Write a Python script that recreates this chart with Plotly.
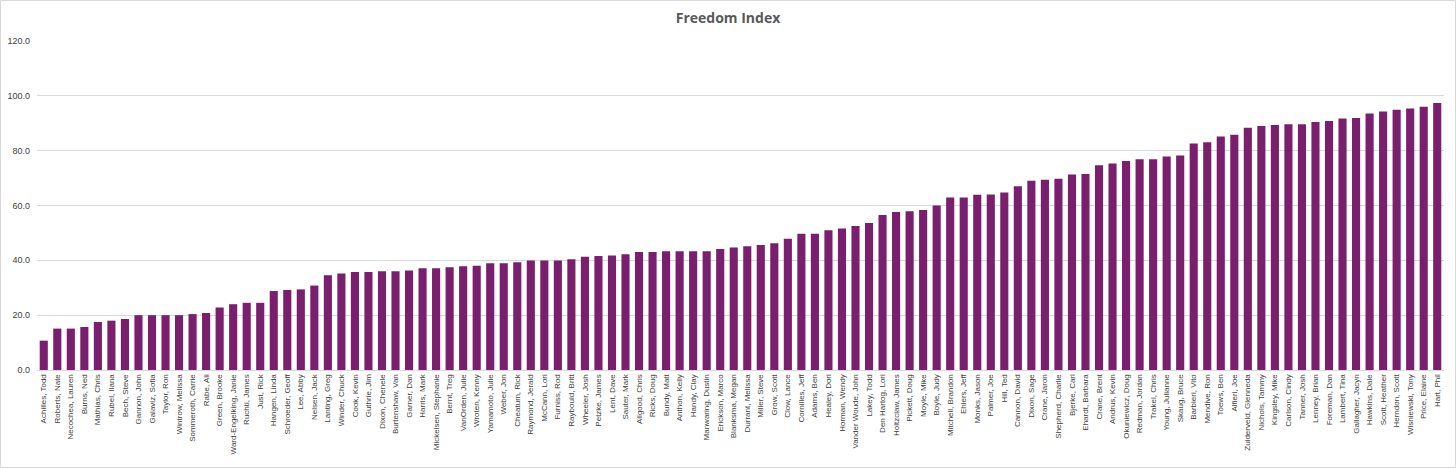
import plotly.graph_objects as go

names = [
    "Achilles, Todd", "Roberts, Nate", "Necochea, Lauren", "Burns, Ned", "Mathias, Chris",
    "Rubel, Ilana", "Bech, Steve", "Gannon, John", "Galaviz, Sofia", "Taylor, Ron",
    "Wintrow, Melissa", "Sommeroth, Carrie", "Rabe, Ali", "Green, Brooke", "Ward-Engelking, Janie",
    "Ruchti, James", "Just, Rick", "Hangen, Linda", "Schroeder, Geoff", "Lee, Abby",
    "Nelsen, Jack", "Lanting, Greg", "Winder, Chuck", "Cook, Kevin", "Guthrie, Jim",
    "Dixon, Chenele", "Burtenshaw, Van", "Garner, Dan", "Harris, Mark", "Mickelsen, Stephanie",
    "Bernt, Treg", "VanOrden, Julie", "Wroten, Kenny", "Yamamoto, Julie", "Weber, Jon",
    "Cheatum, Rick", "Raymond, Jerald", "McCann, Lori", "Furniss, Rod", "Raybould, Britt",
    "Wheeler, Josh", "Petzke, James", "Lent, Dave", "Sauter, Mark", "Allgood, Chris",
    "Ricks, Doug", "Bundy, Matt", "Anthon, Kelly", "Handy, Clay", "Manwaring, Dustin",
    "Erickson, Marco", "Blanksma, Megan", "Durrant, Melissa", "Miller, Steve", "Grow, Scott",
    "Clow, Lance", "Cornilles, Jeff", "Adams, Ben", "Healey, Dori", "Horman, Wendy",
    "Vander Woude, John", "Lakey, Todd", "Den Hartog, Lori", "Holtzclaw, James", "Pickett, Doug",
    "Moyle, Mike", "Boyle, Judy", "Mitchell, Brandon", "Ehlers, Jeff", "Monks, Jason",
    "Palmer, Joe", "Hill, Ted", "Cannon, David", "Dixon, Sage", "Crane, Jaron",
    "Shepherd, Charlie", "Bjerke, Carl", "Ehardt, Barbara", "Crane, Brent", "Andrus, Kevin",
    "Okuniewicz, Doug", "Redman, Jordan", "Trakel, Chris", "Young, Julianne", "Skaug, Bruce",
    "Barbieri, Vito", "Mendive, Ron", "Toews, Ben", "Alfieri, Joe", "Zuiderveld, Glenneda",
    "Nichols, Tammy", "Kingsley, Mike", "Carlson, Cindy", "Tanner, Josh", "Lenney, Brian",
    "Foreman, Dan", "Lambert, Tina", "Gallagher, Jacyn", "Hawkins, Dale", "Scott, Heather",
    "Herndon, Scott", "Wisniewski, Tony", "Price, Elaine", "Hart, Phil",
]

scores = [
    10.7, 15.1, 15.1, 15.7, 17.5, 18.0, 18.6, 20.0, 20.0, 20.0,
    20.0, 20.4, 20.8, 22.8, 24.0, 24.5, 24.5, 28.8, 29.2, 29.4,
    30.8, 34.6, 35.2, 35.7, 35.7, 36.0, 36.0, 36.3, 37.1, 37.1,
    37.5, 37.8, 38.0, 38.9, 38.9, 39.3, 39.9, 39.9, 39.9, 40.4,
    41.3, 41.6, 41.8, 42.2, 43.0, 43.0, 43.3, 43.3, 43.3, 43.3,
    44.1, 44.7, 45.1, 45.6, 46.2, 47.9, 49.7, 49.7, 51.0, 51.6,
    52.5, 53.6, 56.5, 57.6, 57.9, 58.4, 60.0, 62.9, 62.9, 63.9,
    64.0, 64.7, 67.0, 69.0, 69.4, 69.8, 71.3, 71.5, 74.7, 75.3,
    76.2, 76.9, 76.9, 77.9, 78.2, 82.6, 83.1, 85.2, 85.8, 88.4,
    89.0, 89.4, 89.6, 89.6, 90.5, 90.8, 91.7, 91.9, 93.6, 94.3,
    94.9, 95.4, 96.0, 97.4,
]

y_ticks = [0, 20, 40, 60, 80, 100, 120]
title_text = "Freedom Index"

W, H = 1456, 468
ML, MR, MT, MB = 37, 12, 41, 98
PW, PH = W - ML - MR, H - MT - MB

fig = go.Figure(
    go.Bar(
        x=names,
        y=scores,
        marker=dict(color="#7a1f6e", line=dict(width=0)),
    )
)

fig.update_layout(
    width=W,
    height=H,
    margin=dict(l=ML, r=MR, t=MT, b=MB, autoexpand=False),
    paper_bgcolor="white",
    plot_bgcolor="white",
    bargap=0.4,
    showlegend=False,
    font=dict(family="Liberation Sans", color="#595959"),
    title=dict(
        text="<b>" + title_text + "</b>",
        x=0.5,
        xanchor="center",
        y=1 - 18 / H,
        yanchor="middle",
        font=dict(size=14, color="#595959", family="Open Sans"),
    ),
    xaxis=dict(
        type="category",
        tickangle=-90,
        tickfont=dict(size=8, color="#404040"),
        showline=True,
        linecolor="#d9d9d9",
        linewidth=1,
        ticks="",
        showgrid=False,
        automargin=False,
    ),
    yaxis=dict(
        range=[0, 120],
        tickvals=y_ticks,
        tickformat=".1f",
        tickfont=dict(size=9, color="#404040"),
        ticklabelstandoff=6,
        showgrid=True,
        gridcolor="#d9d9d9",
        gridwidth=1,
        zeroline=False,
        showline=False,
        ticks="",
        automargin=False,
    ),
    shapes=[
        dict(
            type="rect",
            xref="paper",
            yref="paper",
            x0=(-ML + 0.5) / PW,
            x1=1 + (MR - 0.5) / PW,
            y0=(-MB + 0.5) / PH,
            y1=1 + (MT - 0.5) / PH,
            line=dict(color="#d9d9d9", width=1),
            fillcolor="rgba(0,0,0,0)",
            layer="below",
        )
    ],
)

fig.write_html(
    "out.html",
    config={"displayModeBar": False},
    post_script="document.body.style.margin='0';document.body.style.overflow='hidden';",
)
